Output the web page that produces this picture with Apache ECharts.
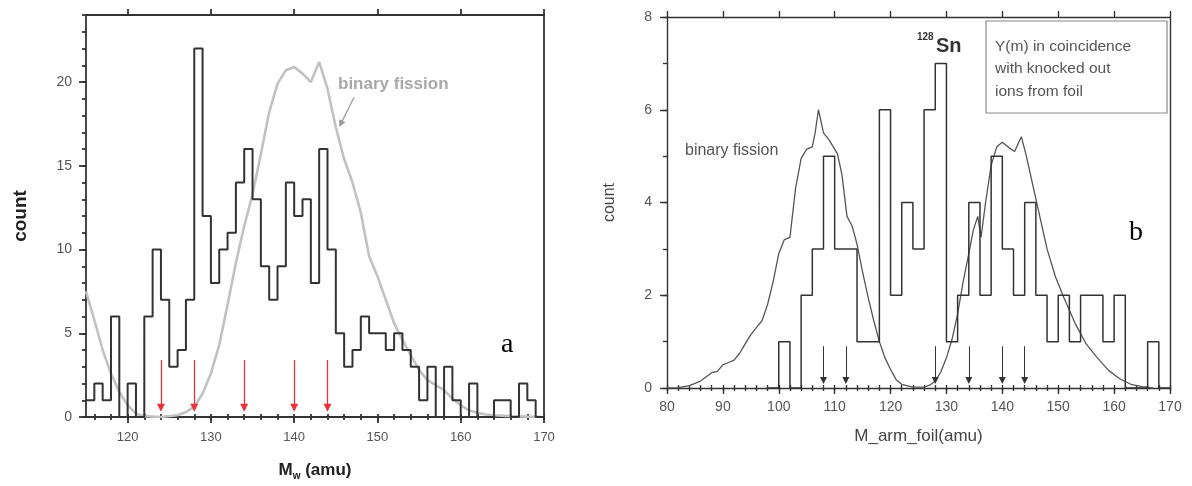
<!DOCTYPE html>
<html><head><meta charset="utf-8">
<script src="https://cdn.jsdelivr.net/npm/echarts@6/dist/echarts.min.js"></script>
<style>html,body{margin:0;padding:0;background:#fff}#c{width:1192px;height:486px}</style>
</head><body><div id="c"></div>
<script>
// ---------------- data (panel a) ----------------
const massA = [115,116,117,118,119,120,121,122,123,124,125,126,127,128,129,130,131,132,133,134,135,136,137,138,139,140,141,142,143,144,145,146,147,148,149,150,151,152,153,154,155,156,157,158,159,160,161,162,163,164,165,166,167,168,169];
const countA = [1,2,1,6,0,2,0,6,10,7,3,4,7,22,12,8,10,11,14,16,13,9,7,9,14,12,13,8,16,10,5,3,4,6,5,5,4,5,4,3,1,3,0,3,1,0,2,0,0,1,1,0,2,1,0];
const fissionAmass  = [115,116,117,118,119,120,121,122,124,126,127,128,129,130,131,132,133,134,135,136,137,138,139,140,141,142,143,144,145,146,147,148,149,150,151,152,153,154,155,156,157,158,159,160,161,162,163,164,166,168,170];
const fissionAcount = [7.5,5.8,4.0,2.6,1.5,0.7,0.2,0.05,0,0.1,0.3,0.6,1.4,2.6,4.3,6.7,9.2,11.4,13.3,15.7,18.2,19.9,20.7,20.9,20.5,20.0,21.2,19.6,17.3,15.4,14.0,12.2,9.6,8.4,7.0,5.6,4.6,3.7,2.8,2.2,1.9,1.6,1.1,0.7,0.4,0.25,0.15,0.1,0.05,0.02,0];
const arrowsA = [124,128,134,140,144];
const xTicksA = [120,130,140,150,160,170];
const yTicksA = [0,5,10,15,20];

// ---------------- data (panel b) ----------------
const massB = [98,100,102,104,106,108,110,112,114,116,118,120,122,124,126,128,130,132,134,136,138,140,142,144,146,148,150,152,154,156,158,160,162,164,166,168];
const countB = [0,1,0,2,3,5,3,3,1,1,6,2,4,3,6,7,1,2,4,2,5,3,2,4,2,1,2,1,2,2,1,2,0,0,1,0];
const fissionBmass  = [80,82,84,86,88,89,90,91,92,93,94,95,96,97,98,99,100,101,102,103,104,105,106,106.5,107.1,108,109,110.5,111.3,112.2,113.1,114,115,116,117,118,119,120,121,122,124,126,127,128,129,130,131,132,133,134,134.8,135.6,136.2,137,138,139,140,141,142.2,143.4,144.3,145.5,146.7,148,149.5,151,153,155,157,159,161,163,165,167];
const fissionBcount = [0,0.01,0.05,0.15,0.33,0.36,0.5,0.55,0.6,0.75,0.95,1.15,1.3,1.45,1.8,2.3,2.9,3.2,3.25,4.3,4.95,5.15,5.2,5.5,6.0,5.5,5.35,5.05,4.6,3.7,3.5,3.1,2.5,1.95,1.45,1.0,0.65,0.4,0.18,0.08,0.02,0.02,0.06,0.15,0.35,0.65,1.05,1.6,2.3,2.9,3.4,3.7,3.25,4.0,4.8,5.2,5.3,5.2,5.1,5.42,5.0,4.35,3.7,3.0,2.4,1.95,1.4,0.95,0.65,0.38,0.2,0.08,0.03,0];
const arrowsB = [108,112,128,134,140,144];
const xTicksB = [80,90,100,110,120,130,140,150,160,170];
const yTicksB = [0,2,4,6,8];

// ---------------- helpers ----------------
const FF = 'Liberation Sans, Arial, sans-serif';
function range(a, b, s) { const r = []; for (let v = a; v <= b + 1e-9; v += s) r.push(v); return r; }
function stepData(starts, counts, width) {
  const d = starts.map((m, i) => [m, counts[i]]);
  d.push([starts[starts.length - 1] + width, counts[counts.length - 1]]);
  return d;
}
function zip(a, b) { return a.map((v, i) => [v, b[i]]); }

function xAxesFor(g, min, max, majors, minors, o) {
  const base = { type: 'value', gridIndex: g, min: min, max: max, splitLine: { show: false } };
  const line = { color: '#333', width: o.lw };
  return [
    Object.assign({}, base, {
      position: 'bottom',
      axisLine: { show: true, onZero: false, lineStyle: line },
      axisTick: { show: true, length: o.major, customValues: majors, lineStyle: line },
      axisLabel: { show: true, customValues: majors, margin: o.margin, fontSize: o.fs, color: '#555', fontFamily: FF },
      name: o.name, nameLocation: 'middle', nameGap: o.gap, nameTextStyle: o.nameStyle
    }),
    Object.assign({}, base, {
      position: 'bottom',
      axisLine: { show: false },
      axisTick: { show: true, length: o.minor, customValues: minors, lineStyle: line },
      axisLabel: { show: false, customValues: minors }
    }),
    Object.assign({}, base, {
      position: 'top',
      axisLine: { show: true, onZero: false, lineStyle: line },
      axisTick: { show: true, length: o.major, customValues: majors, lineStyle: line },
      axisLabel: { show: false, customValues: majors }
    }),
    Object.assign({}, base, {
      position: 'top',
      axisLine: { show: false },
      axisTick: { show: true, length: o.minor, customValues: minors, lineStyle: line },
      axisLabel: { show: false, customValues: minors }
    })
  ];
}
function yAxesFor(g, min, max, majors, minors, o) {
  const base = { type: 'value', gridIndex: g, min: min, max: max, splitLine: { show: false } };
  const line = { color: '#333', width: o.lw };
  return [
    Object.assign({}, base, {
      position: 'left',
      axisLine: { show: true, onZero: false, lineStyle: line },
      axisTick: { show: true, length: o.major, customValues: majors, lineStyle: line },
      axisLabel: { show: true, customValues: majors, margin: o.margin, fontSize: o.fs, color: '#555', fontFamily: FF },
      name: o.name, nameLocation: 'middle', nameGap: o.gap, nameRotate: 90, nameTextStyle: o.nameStyle
    }),
    Object.assign({}, base, {
      position: 'left',
      axisLine: { show: false },
      axisTick: { show: true, length: o.minor, customValues: minors, lineStyle: line },
      axisLabel: { show: false, customValues: minors }
    }),
    Object.assign({}, base, {
      position: 'right',
      axisLine: { show: true, onZero: false, lineStyle: line },
      axisTick: { show: false },
      axisLabel: { show: false }
    })
  ];
}

const xAxis = [].concat(
  xAxesFor(0, 115, 170, xTicksA, range(116, 170, 2), {
    lw: 1.8, major: 6, minor: 3, margin: 14, fs: 13,
    name: '{m|M}{s|w}{m| (amu)}', gap: 42,
    nameStyle: { rich: {
      m: { fontSize: 17, fontWeight: 'bold', color: '#222', fontFamily: FF, lineHeight: 22 },
      s: { fontSize: 10, fontWeight: 'bold', color: '#222', fontFamily: FF, verticalAlign: 'bottom', lineHeight: 14 }
    } }
  }),
  xAxesFor(1, 80, 170, xTicksB, range(80, 170, 2), {
    lw: 1.4, major: 6, minor: 3, margin: 12, fs: 14,
    name: 'M_arm_foil(amu)', gap: 40,
    nameStyle: { fontSize: 17, color: '#444', fontFamily: FF }
  })
);
const yAxis = [].concat(
  yAxesFor(0, 0, 24, yTicksA, range(0, 24, 1), {
    lw: 1.8, major: 7, minor: 4, margin: 14, fs: 14,
    name: 'count', gap: 56,
    nameStyle: { fontSize: 19, fontWeight: 'bold', color: '#222', fontFamily: FF }
  }),
  yAxesFor(1, 0, 8, yTicksB, range(0, 8, 1), {
    lw: 1.4, major: 7, minor: 4, margin: 15, fs: 14,
    name: 'count', gap: 49,
    nameStyle: { fontSize: 16, color: '#444', fontFamily: FF }
  })
);

const option = {
  animation: false,
  backgroundColor: '#fff',
  grid: [
    { left: 86, top: 15, width: 458, height: 405 },
    { left: 667, top: 17, width: 503, height: 371 }
  ],
  xAxis: xAxis,
  yAxis: yAxis,
  series: [
    {
      type: 'line', xAxisIndex: 0, yAxisIndex: 0, z: 2,
      data: zip(fissionAmass, fissionAcount),
      showSymbol: false, lineStyle: { color: '#c2c2c2', width: 2.6 },
      markLine: {
        silent: true, symbol: ['none', 'triangle'], symbolSize: 7,
        label: { show: false }, lineStyle: { color: '#999', width: 1.2, type: 'solid' },
        data: [[{ coord: [147.2, 19.1] }, { coord: [145.6, 17.5] }]]
      }
    },
    {
      type: 'line', xAxisIndex: 0, yAxisIndex: 0, z: 3,
      data: stepData(massA, countA, 1), step: 'end',
      showSymbol: false, lineStyle: { color: '#333', width: 2 },
      markLine: {
        silent: true, symbol: ['none', 'triangle'], symbolSize: 8,
        label: { show: false }, lineStyle: { color: '#e8323c', width: 1.3, type: 'solid' },
        data: arrowsA.map(m => [{ coord: [m, 3.4] }, { coord: [m, 0.55] }])
      }
    },
    {
      type: 'line', xAxisIndex: 4, yAxisIndex: 3, z: 2,
      data: zip(fissionBmass, fissionBcount),
      showSymbol: false, lineStyle: { color: '#555', width: 1.3 }
    },
    {
      type: 'line', xAxisIndex: 4, yAxisIndex: 3, z: 3,
      data: stepData(massB, countB, 2), step: 'end',
      showSymbol: false, lineStyle: { color: '#333', width: 1.5 },
      markLine: {
        silent: true, symbol: ['none', 'triangle'], symbolSize: 7,
        label: { show: false }, lineStyle: { color: '#333', width: 1, type: 'solid' },
        data: arrowsB.map(m => [{ coord: [m, 0.9] }, { coord: [m, 0.16] }])
      }
    }
  ],
  graphic: [
    { type: 'text', left: 338, top: 76, style: { text: 'binary fission', fontSize: 17, fontWeight: 'bold', fill: '#a8a8a8', fontFamily: FF } },
    { type: 'text', left: 501, top: 331, style: { text: 'a', fontSize: 28, fill: '#000', fontFamily: 'Liberation Serif, Times New Roman, serif' } },
    { type: 'text', left: 685, top: 143, style: { text: 'binary fission', fontSize: 16, fill: '#555', fontFamily: FF } },
    { type: 'text', left: 917, top: 32, style: { text: '128', fontSize: 10, fontWeight: 'bold', fill: '#333', fontFamily: FF } },
    { type: 'text', left: 936, top: 36, style: { text: 'Sn', fontSize: 20, fontWeight: 'bold', fill: '#333', fontFamily: FF } },
    { type: 'rect', shape: { x: 986, y: 21, width: 181, height: 92 }, style: { fill: '#fff', stroke: '#888', lineWidth: 1.2 }, z: 10 },
    { type: 'text', left: 995, top: 35, z: 11, style: { text: 'Y(m) in coincidence\nwith knocked out\nions from foil', fontSize: 15.5, lineHeight: 22.5, fill: '#555', fontFamily: FF } },
    { type: 'text', left: 1129, top: 219, style: { text: 'b', fontSize: 28, fill: '#000', fontFamily: 'Liberation Serif, Times New Roman, serif' } }
  ]
};
echarts.init(document.getElementById('c'), null, { renderer: 'canvas' }).setOption(option);
</script>
</body></html>
